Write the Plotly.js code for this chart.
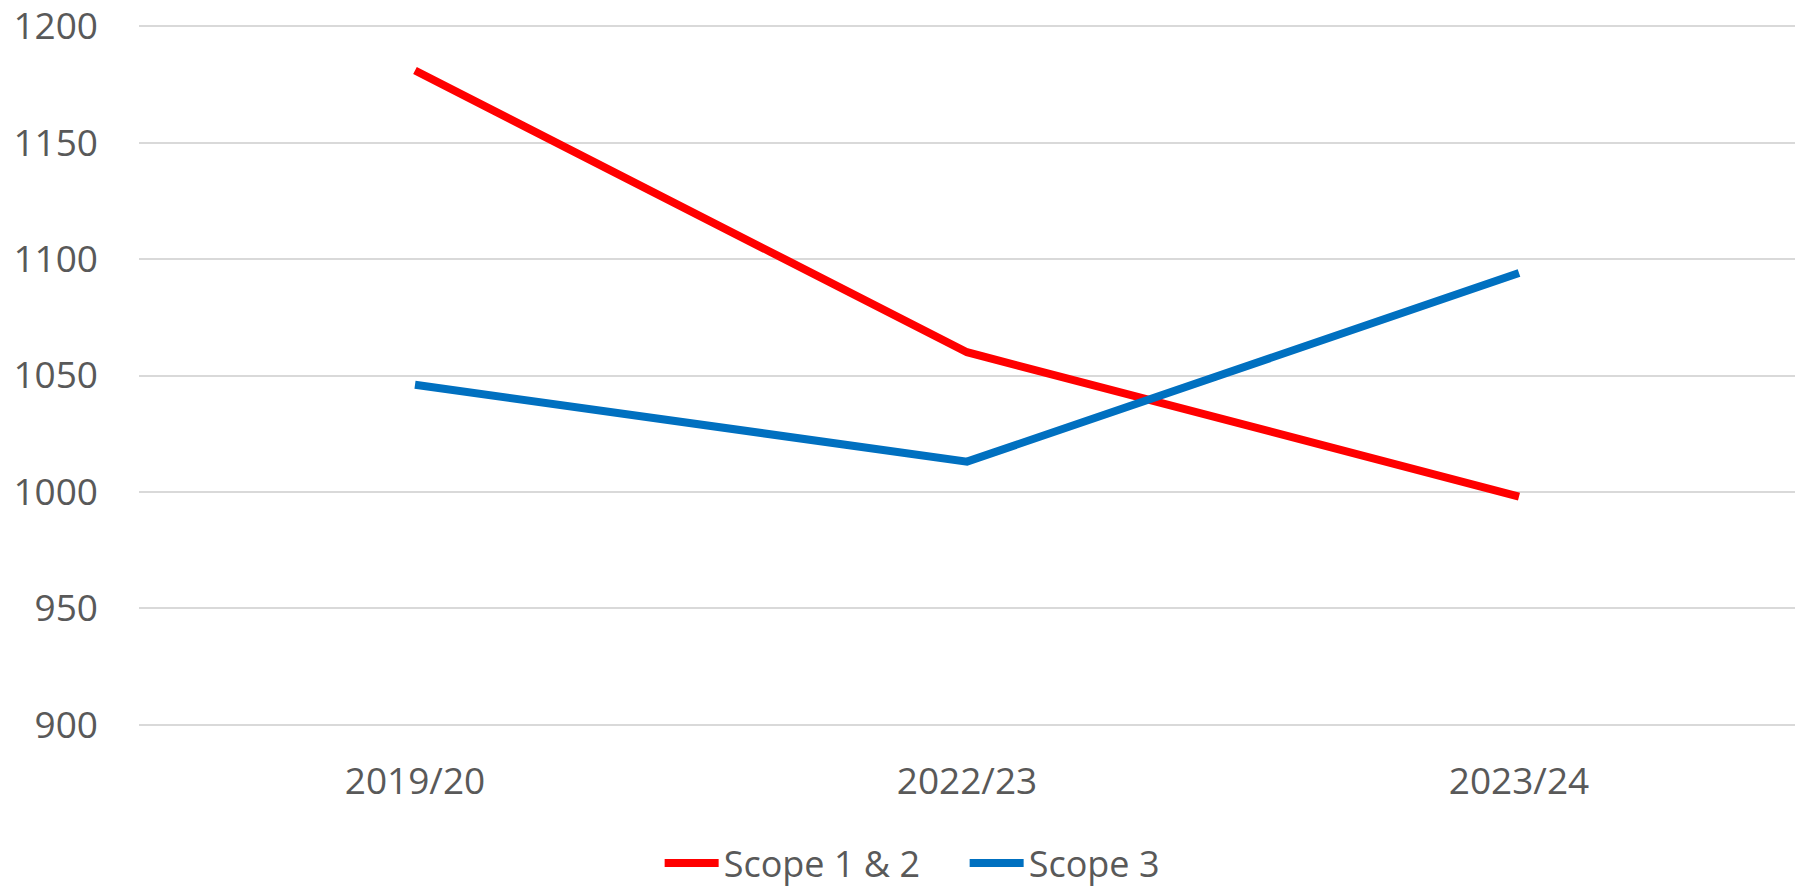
<!DOCTYPE html>
<html>
<head>
<meta charset="utf-8">
<script src="https://cdn.plot.ly/plotly-3.0.1.min.js"></script>
<style>html,body{margin:0;padding:0;background:#fff;}#chart{width:1795px;height:889px;}</style>
</head>
<body>
<div id="chart"></div>
<script>
const categories = ["2019/20", "2022/23", "2023/24"];
const scope12 = [1181, 1060, 998];
const scope3 = [1046, 1013, 1094];
const yTicks = [900, 950, 1000, 1050, 1100, 1150, 1200];

const font = "'Open Sans', 'Noto Sans', sans-serif";
const traces = [
  {x: categories, y: scope12, name: "Scope 1 &amp; 2", type: "scatter", mode: "lines",
   line: {color: "#FF0000", width: 8}},
  {x: categories, y: scope3, name: "Scope 3", type: "scatter", mode: "lines",
   line: {color: "#0070C0", width: 8}}
];
const layout = {
  width: 1795, height: 889,
  margin: {l: 139, r: 0, t: 24, b: 162},
  paper_bgcolor: "#fff", plot_bgcolor: "#fff",
  font: {family: font, color: "#595959", size: 37},
  xaxis: {type: "category", range: [-0.5, 2.5], showgrid: false, zeroline: false, showline: false,
          ticks: "", ticklabelstandoff: 29, tickfont: {size: 37, color: "#595959"}},
  yaxis: {range: [899, 1201], tickvals: yTicks, showgrid: true, gridcolor: "#D9D9D9", gridwidth: 2,
          zeroline: false, showline: false, ticks: "", ticklabelstandoff: 40,
          ticklabeloverflow: "allow", tickfont: {size: 37, color: "#595959"}},
  showlegend: true,
  legend: {orientation: "h", x: 0.3144, xanchor: "left", yref: "container", y: 0.029, yanchor: "middle",
           bgcolor: "rgba(0,0,0,0)",
           font: {size: 36, color: "#595959"}, itemwidth: 54, traceorder: "normal",
           entrywidth: 236, entrywidthmode: "pixels"}
};
Plotly.newPlot("chart", traces, layout, {displayModeBar: false, staticPlot: true});
</script>
</body>
</html>
